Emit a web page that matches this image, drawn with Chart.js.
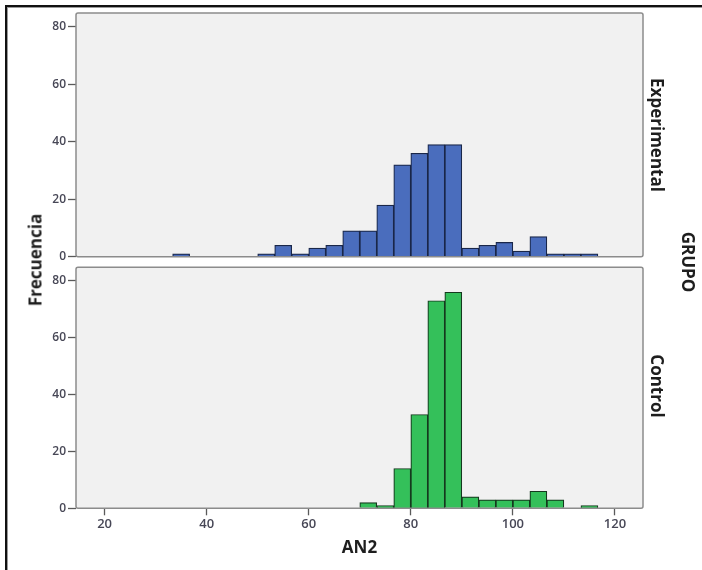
<!DOCTYPE html>
<html>
<head>
<meta charset="utf-8">
<title>AN2 por GRUPO</title>
<script src="https://cdn.jsdelivr.net/npm/chart.js@4/dist/chart.umd.min.js"></script>
<style>
  html, body { margin: 0; padding: 0; background: #fff; }
  #page { position: relative; width: 702px; height: 570px; overflow: hidden; background: #fff; font-family: "Open Sans", sans-serif; }
  #frame { position: absolute; left: 5px; top: 5px; width: 760px; height: 640px; border-left: 2px solid #111; border-top: 2px solid #111; box-shadow: inset 1px 1px 0 #9a9a9a; }
  .wrap { position: absolute; left: 0; width: 702px; }
  #topWrap { top: 0; height: 266px; }
  #botWrap { top: 258px; height: 312px; }
  .lbl { position: absolute; font-weight: 700; font-size: 17px; color: #1e1e1e; white-space: nowrap; line-height: 1; transform: translate(-50%, -50%) rotate(90deg); }
  #yTitle { transform: translate(-50%, -50%) rotate(-90deg); }
</style>
</head>
<body>
<div id="page">
  <div id="frame"></div>
  <div class="wrap" id="topWrap"><canvas id="topChart"></canvas></div>
  <div class="wrap" id="botWrap"><canvas id="botChart"></canvas></div>
  <div class="lbl" id="yTitle" style="left:35px; top:260px;">Frecuencia</div>
  <div class="lbl" id="grpTop" style="left:657px; top:135px;"></div>
  <div class="lbl" id="grpBot" style="left:657px; top:386px;"></div>
  <div class="lbl" id="grpTitle" style="left:688px; top:262px;">GRUPO</div>
</div>
<script>
// Histogram bins of AN2 (width 10/3), given by their centres
const binCenters = [35, 38.33, 41.67, 45, 48.33, 51.67, 55, 58.33, 61.67, 65, 68.33, 71.67, 75,
                    78.33, 81.67, 85, 88.33, 91.67, 95, 98.33, 101.67, 105, 108.33, 111.67, 115];
// Frequencies per bin for each group
const experimentalCounts = [1, 0, 0, 0, 0, 1, 4, 1, 3, 4, 9, 9, 18, 32, 36, 39, 39, 3, 4, 5, 2, 7, 1, 1, 1];
const controlCounts      = [0, 0, 0, 0, 0, 0, 0, 0, 0, 0, 0, 2, 1, 14, 33, 73, 76, 4, 3, 3, 3, 6, 3, 0, 1];
const groupNames = ['Experimental', 'Control'];
const yTickValues = [0, 20, 40, 60, 80];
const xTickValues = [20, 40, 60, 80, 100, 120];

document.getElementById('grpTop').textContent = groupNames[0];
document.getElementById('grpBot').textContent = groupNames[1];

Chart.defaults.font.family = "'Open Sans', sans-serif";

// grey panel behind the bars and its frame on top
const panelPlugin = {
  id: 'panel',
  beforeDraw(chart) {
    const { ctx, chartArea: a } = chart;
    ctx.save();
    ctx.fillStyle = '#f1f1f1';
    ctx.fillRect(a.left, a.top, a.right - a.left, a.bottom - a.top);
    ctx.restore();
  },
  afterDatasetsDraw(chart) {
    const { ctx, chartArea: a } = chart;
    ctx.save();
    ctx.strokeStyle = '#8c8c8c';
    ctx.lineWidth = 1.5;
    ctx.beginPath();
    ctx.roundRect(a.left, a.top, a.right - a.left, a.bottom - a.top, 2);
    ctx.stroke();
    ctx.restore();
  }
};

function points(counts) {
  return binCenters.map((c, i) => ({ x: c, y: counts[i] > 0 ? counts[i] : null }));
}

function yScale() {
  return {
    min: 0,
    max: 84.8,
    afterBuildTicks: s => { s.ticks = yTickValues.map(v => ({ value: v })); },
    afterFit: s => { s.width = 76; },
    grid: { drawOnChartArea: false, drawTicks: true, tickLength: 8, tickWidth: 1.3, color: '#5a5a5a' },
    border: { display: false },
    ticks: { padding: 2, color: '#474756', font: { size: 12, weight: '600' } }
  };
}

function xScale(show) {
  return {
    type: 'linear',
    display: show,
    min: 14.4,
    max: 125.5,
    offset: false,
    afterBuildTicks: s => { s.ticks = xTickValues.map(v => ({ value: v })); },
    afterFit: s => { if (show) s.height = 61.7; },
    grid: { offset: false, drawOnChartArea: false, drawTicks: true, tickLength: 7, tickWidth: 1.3, color: '#5a5a5a' },
    border: { display: false },
    ticks: { padding: 1, maxRotation: 0, color: '#474756', font: { size: 13, weight: '600' } },
    title: { display: show, text: 'AN2', color: '#1e1e1e', font: { size: 17, weight: 'bold' }, padding: { top: 0, bottom: 12 } }
  };
}

function makeChart(id, counts, fill, edge, padding, showX) {
  return new Chart(document.getElementById(id), {
    type: 'bar',
    data: {
      datasets: [{
        data: points(counts),
        backgroundColor: fill,
        borderColor: edge,
        borderWidth: 1.2,
        categoryPercentage: 1,
        barPercentage: 1
      }]
    },
    options: {
      responsive: true,
      maintainAspectRatio: false,
      animation: false,
      layout: { padding },
      plugins: { legend: { display: false }, tooltip: { enabled: false } },
      scales: { x: xScale(showX), y: yScale() }
    },
    plugins: [panelPlugin]
  });
}

makeChart('topChart', experimentalCounts, '#4a6dbd', '#1a2749', { top: 13, right: 59, bottom: 9, left: 0 }, false);
makeChart('botChart', controlCounts, '#34c05a', '#15391e', { top: 5, right: 59, bottom: 0, left: 0 }, true);
</script>
</body>
</html>
